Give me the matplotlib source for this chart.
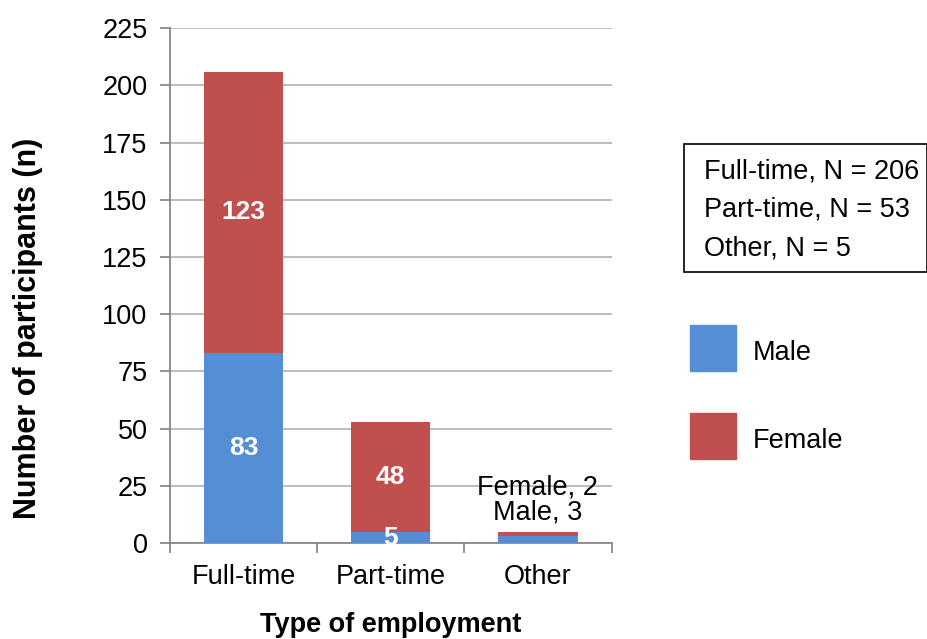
import numpy as np
import matplotlib.pyplot as plt
from matplotlib.patches import Rectangle

plt.rcParams['font.family'] = ['Liberation Sans', 'DejaVu Sans']

categories = ["Full-time", "Part-time", "Other"]
male = [83, 5, 3]
female = [123, 48, 2]
totals = [m + f for m, f in zip(male, female)]

blue = "#558ED5"
red = "#C0504D"
fs = 19.5

fig = plt.figure(figsize=(9.28, 6.39), dpi=100)
ax = fig.add_axes([0.183, 0.150, 0.476, 0.806])

x = np.arange(len(categories))
w = 0.54
ax.bar(x, male, w, color=blue, zorder=3)
ax.bar(x, female, w, bottom=male, color=red, zorder=3)

# segment labels (white, bold) for the first two bars
for i in range(2):
    ax.text(x[i], female[i] / 2 + male[i], str(female[i]), color="white",
            fontsize=19, fontweight="bold", ha="center", va="center", zorder=4)
ax.text(x[0], male[0] / 2, str(male[0]), color="white",
        fontsize=19, fontweight="bold", ha="center", va="center", zorder=4)
ax.text(x[1], 2.2, str(male[1]), color="white",
        fontsize=19, fontweight="bold", ha="center", va="center", zorder=4)
ax.text(x[2], totals[2] + 2.5, f"Female, {female[2]}\nMale, {male[2]}",
        fontsize=fs, ha="center", va="bottom", linespacing=0.95, zorder=4)

ax.set_xlim(-0.5, 2.5)
ax.set_ylim(0, 225)
ax.set_yticks(np.arange(0, 226, 25))
ax.yaxis.grid(True, color="#B0B0B0", linewidth=1.2, zorder=0)
ax.set_xticks([-0.5, 0.5, 1.5, 2.5], minor=False)
ax.set_xticklabels([])
ax.set_xticks(x, minor=True)
ax.set_xticklabels(categories, minor=True, fontsize=fs)
ax.tick_params(axis="x", which="minor", length=0, pad=15)
ax.tick_params(axis="x", which="major", length=7, color="#808080", width=1.2)
ax.tick_params(axis="y", length=7, color="#808080", width=1.2, labelsize=fs, pad=9)
for s in ["top", "right"]:
    ax.spines[s].set_visible(False)
for s in ["left", "bottom"]:
    ax.spines[s].set_color("#808080")
    ax.spines[s].set_linewidth(1.2)

ax.set_ylabel("Number of participants (n)", fontsize=22, fontweight="bold")
ax.yaxis.set_label_coords(-0.286, 0.417)
ax.set_xlabel("Type of employment", fontsize=19.5, fontweight="bold", labelpad=16)

# N box
box = Rectangle((684 / 928, 1 - 272 / 639), 243 / 928, 128 / 639,
                transform=fig.transFigure, fill=False, edgecolor="black", linewidth=1.2)
fig.add_artist(box)
lines = [f"{c}, N = {t}" for c, t in zip(categories, totals)]
for k, line in enumerate(lines):
    fig.text(704 / 928, 1 - (171 + k * 38.5) / 639, line, fontsize=fs, va="center")

# legend patches
for yc, col, lab in [(348, blue, "Male"), (436, red, "Female")]:
    fig.add_artist(Rectangle((690 / 928, 1 - (yc + 23) / 639), 46 / 928, 46 / 639,
                             transform=fig.transFigure, color=col))
    fig.text(753 / 928, 1 - (yc + 5) / 639, lab, fontsize=fs, va="center")

fig.savefig("out.png", dpi=100)
